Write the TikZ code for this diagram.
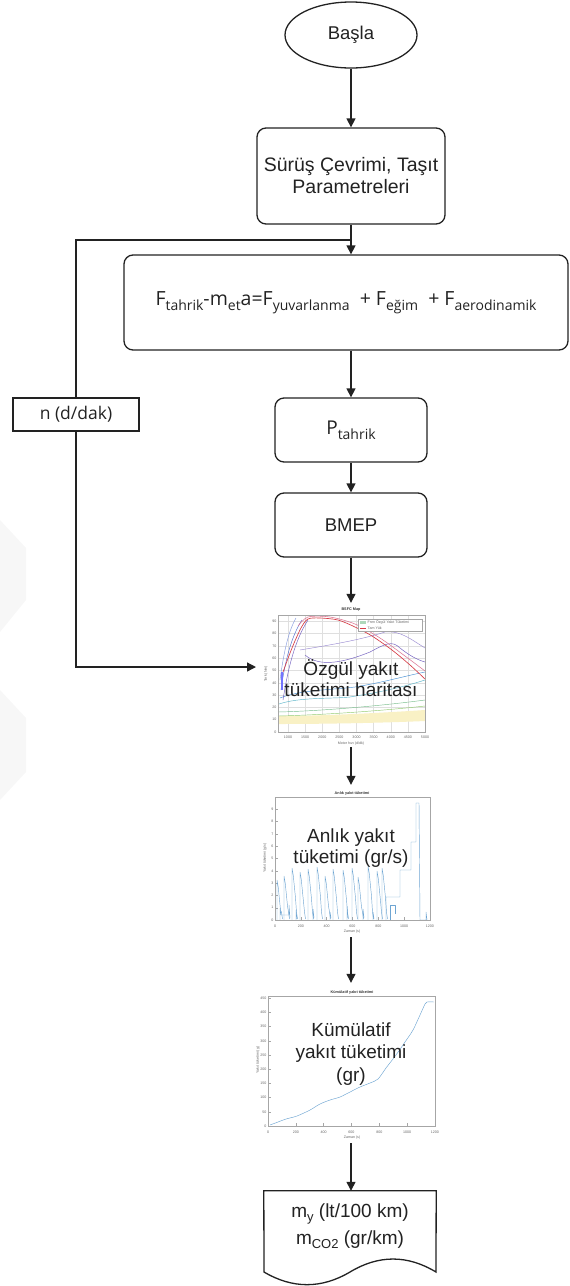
\documentclass[tikz,border=0pt]{standalone}
\usepackage{fontspec}
\setmainfont{Liberation Sans}
\newfontfamily\segoe{Open Sans}
\usetikzlibrary{arrows.meta,shapes.geometric}
\definecolor{ink}{HTML}{222222}
\definecolor{sig}{RGB}{110,165,210}
\definecolor{fullred}{RGB}{215,60,70}
\definecolor{pinkc}{RGB}{220,120,150}
\definecolor{purp}{RGB}{110,90,190}
\definecolor{bluec}{RGB}{80,110,210}
\definecolor{cyanc}{RGB}{90,180,200}
\definecolor{greenc}{RGB}{120,190,140}
\definecolor{yelc}{RGB}{245,230,150}
\newcommand\sbx[1]{\raisebox{-0.45ex}{\fontsize{14}{14}\selectfont #1}}
\newcommand\sby[1]{\raisebox{-0.45ex}{\fontsize{13}{13}\selectfont #1}}
\begin{document}
\begin{tikzpicture}[x=1pt,y=-1pt,
  conn/.style={draw=ink, line width=1.3pt},
  arr/.style={conn, -{Triangle[length=9pt,width=9pt]}},
  rbox/.style={draw=ink, line width=1.3pt, rounded corners=9pt, align=center, inner sep=0pt, text=ink},
  sbox/.style={draw=ink, line width=1.1pt, align=center, inner sep=0pt, text=ink},
  frame/.style={draw=none, inner sep=0pt},
  bigtxt/.style={align=center, inner sep=0pt, text=ink, font=\fontsize{19}{21}\selectfont},
  axis/.style={draw=gray!70, line width=0.4pt},
  gridl/.style={draw=gray!25, line width=0.3pt},
  tick/.style={font=\fontsize{3.6}{4}\selectfont, text=gray!80!black, inner sep=0.5pt},
  ttl/.style={font=\bfseries\fontsize{3.8}{4}\selectfont, text=black!80, inner sep=0.5pt},
  sigl/.style={draw=sig, line width=0.45pt, line join=round}
]
\useasboundingbox (0,0) rectangle (570,1286);
% faint watermark
\fill[gray!6] (0,520) -- (26,548) -- (26,600) -- (0,632) -- cycle;
\fill[gray!6] (0,690) -- (26,718) -- (26,772) -- (0,800) -- cycle;

% ---- main nodes
\node[ellipse, draw=ink, line width=1.3pt, minimum width=132pt, minimum height=66pt, inner sep=0pt, text=ink,
      font=\fontsize{18.5}{20}\selectfont] (start) at (351,35) {Başla};
\node[rbox, minimum width=188pt, minimum height=96pt, font=\fontsize{19.5}{22}\selectfont] (box2) at (351,176)
   {Sürüş Çevrimi, Taşıt\\Parametreleri};
\node[rbox, minimum width=444pt, minimum height=95pt, font=\segoe\fontsize{19.5}{22}\selectfont] (box3) at (346,302.5)
   {F\sbx{tahrik}-m\sbx{et}a=F\sbx{yuvarlanma}\ \ + F\sbx{eğim}\ \ + F\sbx{aerodinamik}};
\node[sbox, minimum width=126pt, minimum height=33pt, font=\segoe\fontsize{17.5}{18}\selectfont] (nbox) at (76,414.5) {n (d/dak)};
\node[rbox, minimum width=152pt, minimum height=64pt, font=\segoe\fontsize{19}{20}\selectfont] (ptah) at (351,430) {P\sbx{tahrik}};
\node[rbox, minimum width=152pt, minimum height=64pt, font=\fontsize{18.5}{20}\selectfont] (bmep) at (351,525) {BMEP};

\node[frame, minimum width=178pt, minimum height=144pt] (map) at (351,675) {};
\node[frame, minimum width=178pt, minimum height=152pt] (inst) at (351,861) {};
\node[frame, minimum width=178pt, minimum height=160pt] (cum) at (351,1063) {};
\node[frame, minimum width=172pt, minimum height=82pt] (doc) at (350,1232) {};
\coordinate (j) at (351,240);
\coordinate (mapin) at (256,667);

% ---- plot 1: BSFC map
\begin{scope}
\fill[white] (278,615) rectangle (425,732);
\foreach \i in {0,...,8} { \draw[gridl] (288+\i*17.125,615) -- (288+\i*17.125,732); }
\foreach \i in {1,...,9} { \draw[gridl] (278,732-\i*12.3) -- (425,732-\i*12.3); }
\fill[yelc!55] (278,716) .. controls (320,716) and (380,713) .. (425,710) -- (425,721) .. controls (380,723) and (320,724) .. (278,724) -- cycle;
\draw[greenc, line width=0.45pt] (278,712) .. controls (320,711) and (380,706) .. (425,700);
\draw[greenc!80!yellow, line width=0.45pt] (278,716) .. controls (320,715) and (380,711) .. (425,706);
\draw[cyanc, line width=0.45pt] (279,704) .. controls (300,697) and (330,699) .. (350,697) .. controls (380,692) and (400,688) .. (425,680);
\draw[cyanc!80!blue, line width=0.45pt] (280,698) .. controls (300,690) and (330,690) .. (355,687) .. controls (385,682) and (405,676) .. (425,672);
\draw[bluec, line width=0.45pt] (281,690) .. controls (285,660) and (292,635) .. (302,620);
\draw[purp, line width=0.45pt] (283,700) .. controls (288,668) and (295,640) .. (308,620);
\draw[bluec!70, line width=0.45pt] (280,680) .. controls (284,650) and (289,630) .. (296,618);
\draw[purp, line width=0.45pt] (305,655) .. controls (320,668) and (345,662) .. (370,652) .. controls (385,644) and (392,640) .. (400,648) .. controls (410,656) and (418,660) .. (425,662);
\draw[purp!70, line width=0.45pt] (300,650) .. controls (330,645) and (360,640) .. (385,632) .. controls (400,630) and (412,640) .. (425,648);
\draw[pinkc, line width=0.55pt] plot[smooth] coordinates {(298,626) (308,617) (330,617) (355,624) (380,638) (405,656) (425,671)};
\draw[fullred, line width=0.65pt] plot[smooth] coordinates {(283,672) (292,648) (301,628) (308,619) (320,618) (338,620) (355,627) (372,636) (392,650) (410,665) (425,679)};
\fill[blue!55] (281,672) rectangle (283,690);
\draw[axis] (278,615) rectangle (425,732);
\foreach \i/\t in {0/1000,1/1500,2/2000,3/2500,4/3000,5/3500,6/4000,7/4500,8/5000} {
  \node[tick] (xl\i) at (288+\i*17.125,737) {\t};
}
\foreach \i in {0,...,9} { \pgfmathtruncatemacro\v{\i*10} \node[tick, anchor=east] (yl\i) at (277,732-\i*12.3) {\v}; }
\node[ttl] (mapttl) at (351,610) {BSFC Map};
\node[tick] (mapxl) at (351,744) {Motor hızı (d/dk)};
\node[tick, rotate=90] (mapyl) at (266,674) {Tork (Nm)};
\draw[gray!70, fill=white, line width=0.3pt] (358,619) rectangle (422,631);
\fill[greenc!60] (360,621) rectangle (366,624);
\draw[fullred, line width=0.5pt] (360,628) -- (366,628);
\node[tick, anchor=west] (lg1) at (367,622.5) {Fren Özgül Yakıt Tüketimi};
\node[tick, anchor=west] (lg2) at (367,628) {Tam Yük};
\end{scope}
\node[bigtxt] (maptxt) at (351,678) {Özgül yakıt\\tüketimi haritası};

% ---- plot 2: instantaneous
\begin{scope}
\foreach \i in {0,...,6} { \draw[axis] (275+\i*25.83,920) -- (275+\i*25.83,917); \node[tick] (ixl\i) at (275+\i*25.83,926) {\pgfmathtruncatemacro\v{\i*200}\v}; }
\foreach \i in {0,...,9} { \draw[axis] (275,920-\i*12.3) -- (278,920-\i*12.3); \node[tick, anchor=east] (iyl\i) at (274,920-\i*12.3) {\i}; }
\foreach \x/\p in {277/880, 284/876, 292/868, 300/872, 308/869, 317/867, 325/876, 333/869, 343/870, 352/868, 358/877, 368/866, 377/871, 382/868} {
  \draw[sigl] (\x,920) -- (\x,\p) -- (\x+1.2,\p+7) -- (\x+2.5,\p+20) -- (\x+3.5,\p+30) -- (\x+4.5,912) -- (\x+5.5,919);
}
\draw[sigl] (280,920) -- (280,908) -- (281,915) -- (289,915) -- (289,905) -- (290,918);
\draw[sigl] (296,920) -- (296,910) -- (297,919) (313,920) -- (313,909) -- (314,918) (330,920) -- (330,912) -- (331,918);
\draw[sigl] (347,920) -- (347,906) -- (348,918) (363,920) -- (363,909) -- (364,918) (373,920) -- (373,912) -- (374,919);
\draw[sigl] (386,920) -- (386,897) -- (400,897) -- (400,870) -- (411,870) -- (411,842) -- (416,842) -- (416,803) -- (419,803) -- (420,920) -- (426,920) -- (426,912) -- (427,920);
\draw[sigl] (390,920) -- (390,905) -- (395,905) -- (395,914);
\draw[axis] (275,797) rectangle (430,920);
\node[ttl] (instttl) at (352,794) {Anlık yakıt tüketimi};
\node[tick] (instxl) at (352,932) {Zaman (s)};
\node[tick, rotate=90] (instyl) at (265,858) {Yakıt tüketimi (g/s)};
\end{scope}
\node[bigtxt] (insttxt) at (351,848) {Anlık yakıt\\tüketimi (gr/s)};

% ---- plot 3: cumulative
\begin{scope}
\foreach \i in {0,...,6} { \draw[axis] (268+\i*27.83,1126) -- (268+\i*27.83,1123); \node[tick] (cxl\i) at (268+\i*27.83,1132) {\pgfmathtruncatemacro\v{\i*200}\v}; }
\foreach \i in {0,...,9} { \draw[axis] (268,1126-\i*14.2) -- (271,1126-\i*14.2); \node[tick, anchor=east] (cyl\i) at (267,1126-\i*14.2) {\pgfmathtruncatemacro\v{\i*50}\v}; }
\draw[sigl, line width=0.45pt] plot[smooth] coordinates {(270,1125) (278,1122) (286,1119) (297,1116) (310,1110) (320,1104) (330,1100) (340,1097) (350,1092) (360,1087) (370,1083) (378,1079) (386,1068) (396,1055) (405,1042) (413,1030) (420,1015) (425,1004) (427,1002) (434,1002)};
\draw[axis] (268,996) rectangle (435,1126);
\node[ttl] (cumttl) at (352,993) {Kümülatif yakıt tüketimi};
\node[tick] (cumxl) at (352,1138) {Zaman (s)};
\node[tick, rotate=90] (cumyl) at (258,1060) {Yakıt tüketimi (g)};
\end{scope}
\node[bigtxt, font=\fontsize{19}{22.5}\selectfont] (cumtxt) at (351,1054) {Kümülatif\\yakıt tüketimi\\(gr)};

% ---- document shape
\draw[ink, line width=1.3pt, fill=white] (doc.north west) -- (doc.north east) -- (436,1272)
   .. controls (407.3,1254.7) and (378.7,1254.7) .. (350,1272)
   .. controls (321.3,1288.9) and (292.7,1288.9) .. (264,1272) -- cycle;
\node[align=center, inner sep=0pt, text=ink, font=\fontsize{19}{27}\selectfont] (doctxt) at (350,1226)
   {m\sby{y} (lt/100 km)\\m\sby{CO2} (gr/km)};

% ---- connectors
\draw[arr] (start.south) -- (box2.north);
\draw[conn] (box2.south) -- (j);
\draw[arr] (j) -- (j |- box3.north);
\draw[conn] (j) -| (nbox.north);
\draw[arr] (nbox.south) |- (mapin);
\draw[arr] (ptah.north |- box3.south) -- (ptah.north);
\draw[arr] (ptah.south) -- (bmep.north);
\draw[arr] (bmep.south) -- (map.north);
\draw[arr] (map.south) -- (inst.north);
\draw[arr] (inst.south) -- (cum.north);
\draw[arr] (cum.south) -- (cum.south |- doc.north);
\end{tikzpicture}
\end{document}
